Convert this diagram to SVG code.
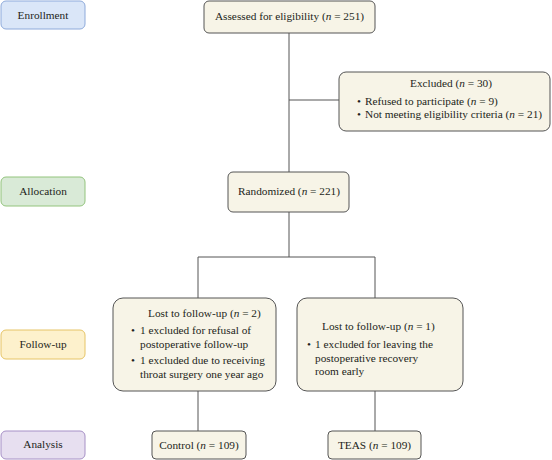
<svg xmlns="http://www.w3.org/2000/svg" width="552" height="460" viewBox="0 0 552 460">
<style>
text{font-family:"Liberation Serif","Times New Roman",serif;font-size:11.3px;fill:#231f20}
.c{text-anchor:middle}
.box{fill:#f7f4e7;stroke:#555;stroke-width:1}
.ln{stroke:#555;stroke-width:1;fill:none}
.i{font-style:italic}
</style>
<rect width="552" height="460" fill="#fff"/>
<g id="enrollment"><rect x="1" y="1" width="84" height="28" rx="5" fill="#dae6f8" stroke="#8eaadb"/><text class="c" x="43" y="18.5">Enrollment</text></g>
<g id="allocation"><rect x="1" y="177" width="84" height="29" rx="5" fill="#d9ead7" stroke="#93c47d"/><text class="c" x="43" y="195">Allocation</text></g>
<g id="followup"><rect x="1" y="330" width="84" height="29" rx="5" fill="#fdf1cc" stroke="#e6c466"/><text class="c" x="43" y="348">Follow-up</text></g>
<g id="analysis"><rect x="1" y="431" width="84" height="28" rx="5" fill="#e7dff0" stroke="#a690c6"/><text class="c" x="43" y="448">Analysis</text></g>
<g id="connectors">
<path class="ln" d="M289 33V172M289 100H339M289 212V257M198 257H375M198 257V298M375 257V298M198 391V431M375 391V431"/>
</g>
<g id="assessed"><rect class="box" x="204" y="1" width="171" height="32" rx="5"/><text class="c" x="289.5" y="20">Assessed for eligibility (<tspan class="i">n</tspan> = 251)</text></g>
<g id="excluded"><rect class="box" x="339" y="72" width="211" height="59" rx="7"/><text class="c" x="451" y="87">Excluded (<tspan class="i">n</tspan> = 30)</text>
<text x="357" y="105">•</text><text x="365" y="105">Refused to participate (<tspan class="i">n</tspan> = 9)</text>
<text x="357" y="118">•</text><text x="365" y="118">Not meeting eligibility criteria (<tspan class="i">n</tspan> = 21)</text></g>
<g id="randomized"><rect class="box" x="228" y="172" width="121" height="40" rx="5"/><text class="c" x="289" y="195">Randomized (<tspan class="i">n</tspan> = 221)</text></g>
<g id="lost-control"><rect class="box" x="113" y="298" width="163" height="93" rx="10"/><text x="148" y="317">Lost to follow-up (<tspan class="i">n</tspan> = 2)</text>
<text x="131" y="334">•</text><text x="140" y="334">1 excluded for refusal of</text><text x="140" y="348">postoperative follow-up</text>
<text x="131" y="364">•</text><text x="140" y="364">1 excluded due to receiving</text><text x="140" y="378">throat surgery one year ago</text></g>
<g id="lost-teas"><rect class="box" x="297" y="298" width="166" height="93" rx="10"/><text x="322" y="330">Lost to follow-up (<tspan class="i">n</tspan> = 1)</text>
<text x="307" y="348">•</text><text x="315" y="348">1 excluded for leaving the</text><text x="315" y="361.5">postoperative recovery</text><text x="315" y="375">room early</text></g>
<g id="control"><rect class="box" x="152" y="431" width="94" height="28" rx="4"/><text class="c" x="199" y="449">Control (<tspan class="i">n</tspan> = 109)</text></g>
<g id="teas"><rect class="box" x="328" y="431" width="93" height="28" rx="4"/><text class="c" x="374.5" y="449">TEAS (<tspan class="i">n</tspan> = 109)</text></g>
</svg>
